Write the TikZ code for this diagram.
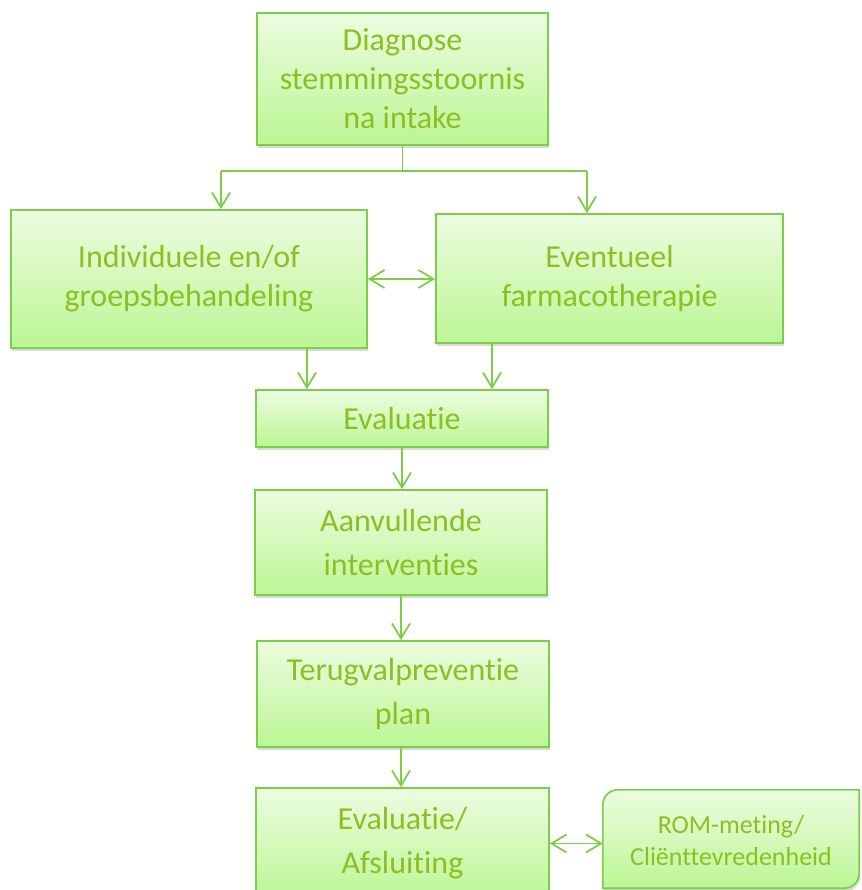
\documentclass[tikz,border=0pt]{standalone}
\usepackage{fontspec}
\setmainfont{Carlito}[Ligatures = {NoCommon, NoRare}]
\usetikzlibrary{arrows.meta,shadows}

\definecolor{rimgreen}{RGB}{124,206,72}
\definecolor{txtgreen}{RGB}{142,190,34}
\definecolor{topgreen}{RGB}{236,252,224}
\definecolor{botgreen}{RGB}{188,246,148}

\begin{document}
\begin{tikzpicture}[x = 1pt, y = -1pt,
  box/.style = {draw = rimgreen, line width = 1.6pt, top color = topgreen, bottom color = botgreen,
    text = txtgreen, align = center, inner sep = 0pt, font = \fontsize{32}{39}\selectfont,
    drop shadow = {shadow xshift = 1pt, shadow yshift = -3pt, opacity = 0.25, fill = black!60}},
  wide/.style = {font = \fontsize{32}{44}\selectfont},
  line/.style = {draw = rimgreen, line width = 1.8pt},
  arr/.style = {line, -{Straight Barb[length = 15pt, width = 18pt]}},
  dbl/.style = {line, {Straight Barb[length = 15pt, width = 18pt]}-{Straight Barb[length = 15pt, width = 18pt]}}]
\useasboundingbox (0,0) rectangle (861,890);
\clip (0,0) rectangle (861,890);

\node[box, minimum width = 291pt, minimum height = 132pt] (diag) at (402.5,79) {Diagnose\\stemmingsstoornis\\na intake};
\node[box, minimum width = 356pt, minimum height = 138pt] (indiv) at (189,279) {Individuele en/of\\groepsbehandeling};
\node[box, minimum width = 347pt, minimum height = 129pt] (farma) at (609.5,278.5) {Eventueel\\farmacotherapie};
\node[box, minimum width = 292pt, minimum height = 57pt] (eval) at (402,418.5) {Evaluatie};
\node[box, wide, minimum width = 292pt, minimum height = 105pt] (aanv) at (401,542.5) {Aanvullende\\interventies};
\node[box, wide, minimum width = 292pt, minimum height = 106pt] (terug) at (403,694) {Terugvalpreventie\\plan};
\node[box, wide, minimum width = 293pt, minimum height = 111pt] (afsl) at (402.5,843.5) {Evaluatie/\\Afsluiting};

% ROM box: round diagonal corners
\node[inner sep = 0pt, minimum width = 256pt, minimum height = 98pt] (rom) at (731,839) {};
\path[draw = rimgreen, line width = 1.6pt, top color = topgreen, bottom color = botgreen,
  drop shadow = {shadow xshift = 1pt, shadow yshift = -3pt, opacity = 0.25, fill = black!60}]
  (rom.south west) -- ([yshift = -15pt]rom.north west) to[out = 90, in = 180] ([xshift = 15pt]rom.north west)
  -- (rom.north east) -- ([yshift = 15pt]rom.south east) to[out = -90, in = 0] ([xshift = -15pt]rom.south east)
  -- cycle;
\node[text = txtgreen, align = center, inner sep = 0pt, font = \fontsize{26}{32}\selectfont] (romtxt) at ([yshift = -2pt]rom) {ROM-meting/\\Cliënttevredenheid};

\coordinate (bl) at (221,171);
\coordinate (br) at (587,171);
\draw[line] (diag.south) -- (diag.south |- bl);
\draw[line] (bl) -- (br);
\draw[arr] (bl) -- (bl |- indiv.north);
\draw[arr] (br) -- (br |- farma.north);
\draw[dbl] (indiv.east) -- (indiv.east -| farma.west);

\draw[arr] ([xshift = 118pt]indiv.south) -- ([xshift = 118pt]indiv.south |- eval.north);
\draw[arr] ([xshift = -117.5pt]farma.south) -- ([xshift = -117.5pt]farma.south |- eval.north);
\draw[arr] (eval.south) -- (eval.south |- aanv.north);
\draw[arr] (aanv.south) -- (aanv.south |- terug.north);
\draw[arr] (terug.south -| aanv.south) -- (aanv.south |- afsl.north);
\draw[dbl] (afsl.east) -- (afsl.east -| rom.west);
\end{tikzpicture}
\end{document}
